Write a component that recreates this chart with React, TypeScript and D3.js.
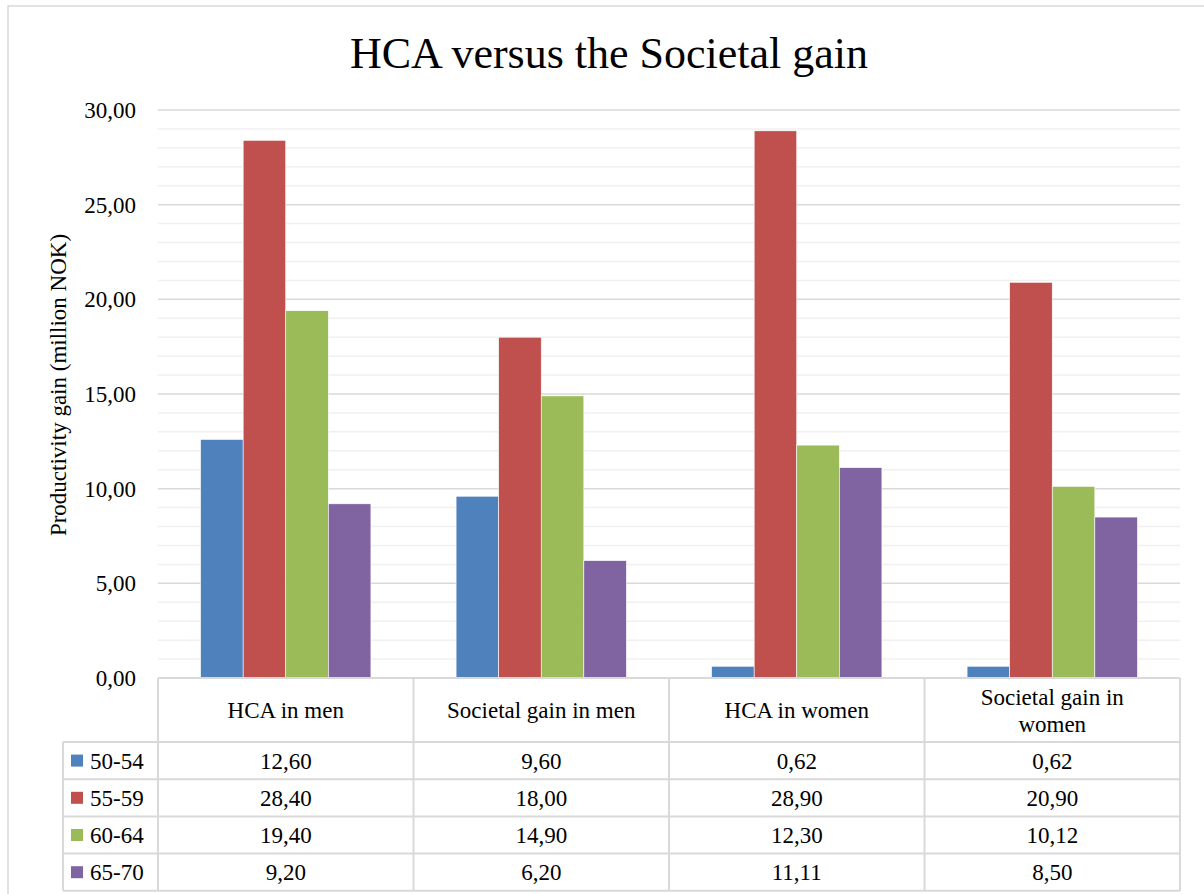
import React from "react";
import * as d3 from "d3";

const categories = ["HCA in men", "Societal gain in men", "HCA in women", "Societal gain in women"];
const categoryLines = [["HCA in men"], ["Societal gain in men"], ["HCA in women"], ["Societal gain in", "women"]];
const seriesNames = ["50-54", "55-59", "60-64", "65-70"];
const values5054 = [12.6, 9.6, 0.62, 0.62];
const values5559 = [28.4, 18.0, 28.9, 20.9];
const values6064 = [19.4, 14.9, 12.3, 10.12];
const values6570 = [9.2, 6.2, 11.11, 8.5];
const seriesColors = ["#4F81BD", "#C0504D", "#9BBB59", "#8064A2"];
const yTicks = [0, 5, 10, 15, 20, 25, 30];

const seriesValues = [values5054, values5559, values6064, values6570];

const W = 1204;
const H = 894;
const left = 158;
const right = 1180;
const top = 110;
const bottom = 678;
const headerH = 64;
const rowH = 37.2;
const legendLeft = 63;
const FONT = "'Liberation Serif', 'DejaVu Serif', serif";
const TXT = 23;

const fmt = (v: number) => v.toFixed(2).replace(".", ",");

export default function App() {
  const x = d3.scaleBand<string>().domain(categories).range([left, right]).paddingInner(0).paddingOuter(0);
  const inner = d3
    .scaleBand<string>()
    .domain(seriesNames)
    .range([0, x.bandwidth()])
    .paddingInner(0)
    .paddingOuter(1);
  const y = d3.scaleLinear().domain([0, 30]).range([bottom, top]);
  const minorTicks = d3.range(0, 31, 1).filter((t) => t % 5 !== 0);
  const tableBottom = bottom + headerH + rowH * 4;
  const gridColor = "#d9d9d9";

  return (
    <svg
      width={W}
      height={H}
      style={{ position: "absolute", left: 0, top: 0, background: "#fff" }}
      fontFamily={FONT}
    >
      <rect x={8} y={6} width={W + 10} height={H + 10} fill="#fff" stroke={gridColor} strokeWidth={1.5} />
      <text x={609} y={68} textAnchor="middle" fontSize={44} fill="#000">
        HCA versus the Societal gain
      </text>

      {/* gridlines */}
      {minorTicks.map((t) => (
        <line key={"m" + t} x1={left} x2={right} y1={y(t)} y2={y(t)} stroke="#f0f0f0" strokeWidth={1.5} />
      ))}
      {yTicks.map((t) => (
        <line key={"g" + t} x1={left} x2={right} y1={y(t)} y2={y(t)} stroke={gridColor} strokeWidth={1.5} />
      ))}
      {yTicks.map((t) => (
        <text key={"t" + t} x={136} y={y(t)} dy="0.35em" textAnchor="end" fontSize={TXT} fill="#000">
          {fmt(t)}
        </text>
      ))}
      <text
        transform={`translate(58, 385) rotate(-90)`}
        textAnchor="middle"
        dy="0.35em"
        fontSize={23}
        fill="#000"
      >
        Productivity gain (million NOK)
      </text>

      {/* bars */}
      {categories.map((c, ci) => (
        <g key={c} transform={`translate(${x(c)},0)`}>
          {seriesNames.map((s, si) => {
            const v = seriesValues[si][ci];
            return (
              <rect
                key={s}
                x={inner(s)}
                y={y(v)}
                width={inner.bandwidth()}
                height={y(0) - y(v)}
                fill={seriesColors[si]}
                stroke="#fff"
                strokeWidth={0.6}
              />
            );
          })}
        </g>
      ))}

      {/* data table */}
      <g stroke={gridColor} strokeWidth={2} fill="none">
        <line x1={left} x2={right} y1={bottom} y2={bottom} />
        {d3.range(5).map((i) => (
          <line
            key={"h" + i}
            x1={legendLeft}
            x2={right}
            y1={bottom + headerH + rowH * i}
            y2={bottom + headerH + rowH * i}
          />
        ))}
        <line x1={legendLeft} x2={legendLeft} y1={bottom + headerH} y2={tableBottom} />
        {categories.map((c) => (
          <line key={"v" + c} x1={x(c)} x2={x(c)} y1={bottom} y2={tableBottom} />
        ))}
        <line x1={right} x2={right} y1={bottom} y2={tableBottom} />
      </g>

      {categories.map((c, ci) => {
        const lines = categoryLines[ci];
        const cx = (x(c) as number) + x.bandwidth() / 2;
        const cy = bottom + headerH / 2;
        const lh = 27;
        return (
          <text key={"hd" + c} x={cx} textAnchor="middle" fontSize={TXT} fill="#000">
            {lines.map((l, li) => (
              <tspan key={li} x={cx} y={cy + (li - (lines.length - 1) / 2) * lh} dy="0.35em">
                {l}
              </tspan>
            ))}
          </text>
        );
      })}

      {seriesNames.map((s, si) => {
        const rowY = bottom + headerH + rowH * si + rowH / 2;
        return (
          <g key={"row" + s}>
            <rect x={71} y={rowY - 6} width={12} height={12} fill={seriesColors[si]} />
            <text x={90} y={rowY} dy="0.35em" fontSize={TXT} fill="#000">
              {s}
            </text>
            {categories.map((c, ci) => (
              <text
                key={c}
                x={(x(c) as number) + x.bandwidth() / 2}
                y={rowY}
                dy="0.35em"
                textAnchor="middle"
                fontSize={TXT}
                fill="#000"
              >
                {fmt(seriesValues[si][ci])}
              </text>
            ))}
          </g>
        );
      })}
    </svg>
  );
}
